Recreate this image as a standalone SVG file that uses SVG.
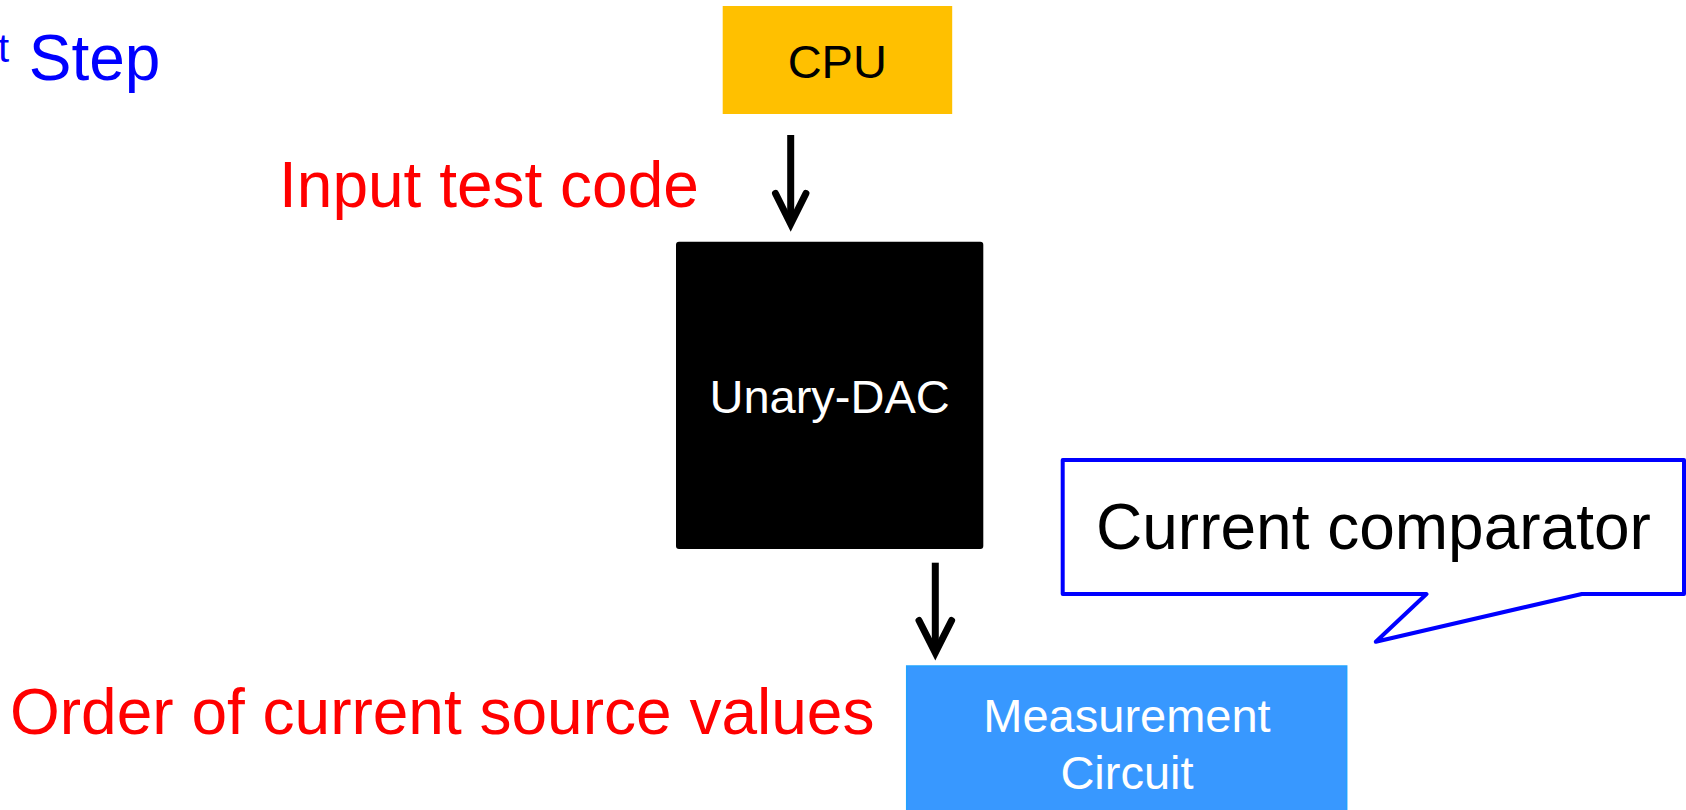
<svg xmlns="http://www.w3.org/2000/svg" width="1686" height="810" viewBox="0 0 1686 810">
  <style>
    text { font-family: "Liberation Sans", Arial, sans-serif; }
    .lbl-red { fill: #FF0000; font-size: 64px; }
    .lbl-blue { fill: #0000FF; font-size: 64px; }
    .node-text { font-size: 47px; text-anchor: middle; }
    .arrow { fill: none; stroke: #000000; stroke-width: 7; stroke-linejoin: miter; stroke-miterlimit: 10; }
    .arrow-head { fill: none; stroke: #000000; stroke-width: 7; stroke-linecap: round; stroke-linejoin: miter; stroke-miterlimit: 10; }
  </style>

  <rect x="0" y="0" width="1686" height="810" fill="#FFFFFF"/>

  <!-- step heading (superscript tail of the ordinal, then the word) -->
  <g id="step-title">
    <text class="lbl-blue" x="9" y="61.7" font-size="40" text-anchor="end" style="font-size:40px">t</text>
    <text class="lbl-blue" x="28.8" y="80">Step</text>
  </g>

  <!-- CPU -->
  <g id="cpu">
    <rect x="722.7" y="6" width="229.5" height="108" fill="#FFC000"/>
    <text class="node-text" x="837.3" y="78.3" fill="#000000">CPU</text>
  </g>

  <!-- Unary DAC -->
  <g id="unary-dac">
    <rect x="676" y="241.7" width="307.3" height="307.3" rx="3" fill="#000000"/>
    <text class="node-text" x="829.6" y="412.7" fill="#FFFFFF">Unary-DAC</text>
  </g>

  <!-- Measurement circuit -->
  <g id="measurement-circuit">
    <rect x="906.7" y="666" width="440" height="150" fill="#3898FF" stroke="#22A2FF" stroke-width="1.5"/>
    <text class="node-text" x="1127" y="731.7" fill="#FFFFFF">Measurement</text>
    <text class="node-text" x="1127" y="789.3" fill="#FFFFFF">Circuit</text>
  </g>

  <!-- callout naming the comparator -->
  <g id="comparator-callout">
    <path d="M1062.7 460 H1684 V594 H1581.8 L1375.8 641.7 L1426.5 594 H1062.7 Z" fill="#FFFFFF" stroke="#0000FF" stroke-width="4" stroke-linejoin="round"/>
    <text x="1096" y="549.3" fill="#000000" style="font-size:64px">Current comparator</text>
  </g>

  <!-- labels -->
  <g id="label-input">
    <text class="lbl-red" x="279" y="206.7">Input test code</text>
  </g>
  <g id="label-order">
    <text class="lbl-red" x="10" y="734">Order of current source values</text>
  </g>

  <!-- connectors -->
  <g id="connectors">
    <path class="arrow" d="M790.7 135 V221"/>
    <path class="arrow-head" d="M775.5 193.5 L790.7 224 L805.9 193.5"/>
    <path class="arrow" d="M935.3 562.7 V649"/>
    <path class="arrow-head" d="M919 620.5 L935.3 652.7 L951.6 620.5"/>
  </g>
</svg>
